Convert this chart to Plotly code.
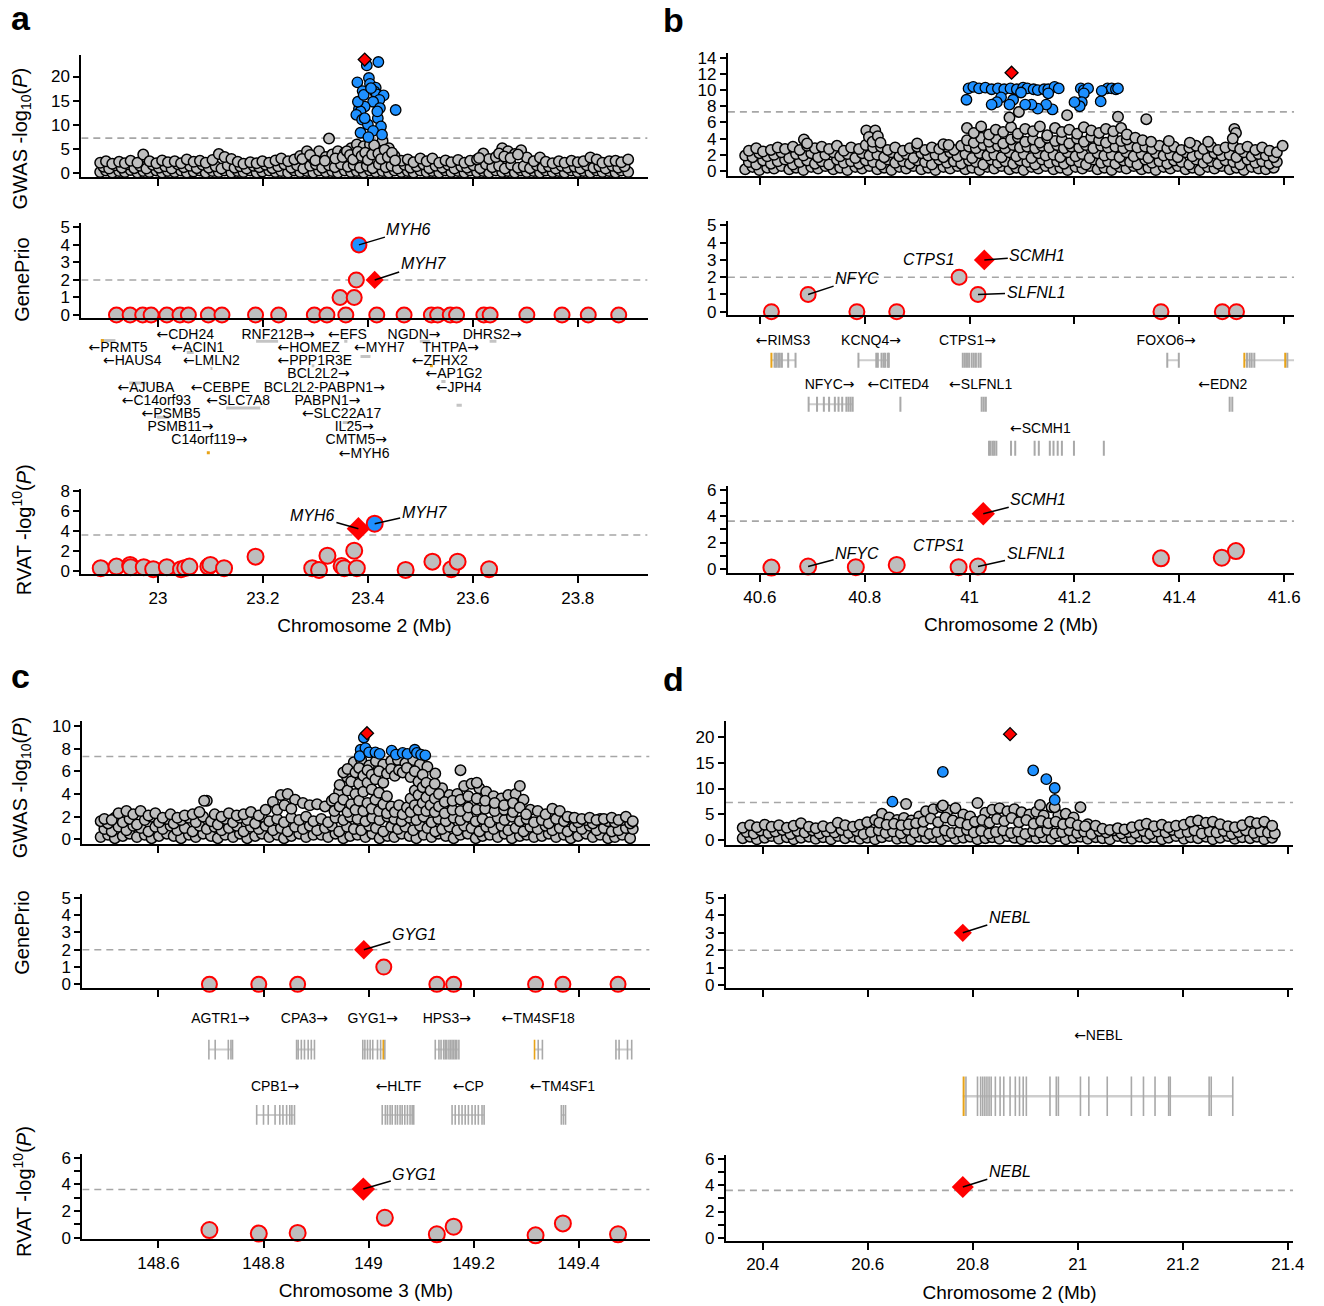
import plotly.graph_objects as go

W, H = 1324, 1306
FONT = "Liberation Sans, Arial, Helvetica, sans-serif"
GRAY = "#BEBEBE"
BLUE = "#1E90FF"
RED = "#FF0000"
DASHC = "#A6A6A6"
EXONC = "#A9A9A9"
INTRONC = "#CDCDCD"
ORANGE = "#E8A317"

# ---------------- thresholds / ticks ----------------
gwas_threshold = 7.3
geneprio_threshold = 2
rvat_threshold = 3.62

a_xticks = [23, 23.2, 23.4, 23.6, 23.8]
a_xticklabels = ["23", "23.2", "23.4", "23.6", "23.8"]
b_xticks = [40.6, 40.8, 41, 41.2, 41.4, 41.6]
b_xticklabels = ["40.6", "40.8", "41", "41.2", "41.4", "41.6"]
c_xticks = [148.6, 148.8, 149, 149.2, 149.4]
c_xticklabels = ["148.6", "148.8", "149", "149.2", "149.4"]
d_xticks = [20.4, 20.6, 20.8, 21, 21.2, 21.4]
d_xticklabels = ["20.4", "20.6", "20.8", "21", "21.2", "21.4"]

a_gwas_yticks = [0, 5, 10, 15, 20]
b_gwas_yticks = [0, 2, 4, 6, 8, 10, 12, 14]
c_gwas_yticks = [0, 2, 4, 6, 8, 10]
d_gwas_yticks = [0, 5, 10, 15, 20]
geneprio_yticks = [0, 1, 2, 3, 4, 5]
a_rvat_yticks = [0, 2, 4, 6, 8]
rvat_yticks = [0, 2, 4, 6]
rvat_minor_yticks = [1, 3, 5]

# ---------------- panel a : GWAS ----------------
a_xA = [22.890, 22.901, 22.913, 22.926, 22.937, 22.948, 22.961, 22.972, 22.984, 22.997,
        23.008, 23.019, 23.032, 23.044, 23.055, 23.068, 23.080, 23.091, 23.104, 23.116,
        23.127, 23.140, 23.152, 23.163, 23.176, 23.188, 23.199, 23.212, 23.224, 23.235,
        23.248, 23.260, 23.271, 23.284, 23.296, 23.307, 23.320, 23.332, 23.343, 23.356,
        23.368, 23.379, 23.392, 23.404, 23.415, 23.428, 23.440, 23.451, 23.464, 23.476,
        23.487, 23.500, 23.512, 23.523, 23.536, 23.548, 23.559, 23.572, 23.584, 23.595,
        23.608, 23.620, 23.631, 23.644, 23.656, 23.667, 23.680, 23.692, 23.703, 23.716,
        23.728, 23.739, 23.752, 23.764, 23.775, 23.788, 23.800, 23.811, 23.824, 23.836,
        23.847, 23.860, 23.872, 23.883, 23.896]
a_xB = [22.896, 22.907, 22.919, 22.931, 22.943, 22.955, 22.966, 22.978, 22.990, 23.002,
        23.014, 23.026, 23.038, 23.049, 23.061, 23.074, 23.085, 23.097, 23.110, 23.121,
        23.133, 23.146, 23.157, 23.169, 23.182, 23.193, 23.205, 23.218, 23.229, 23.241,
        23.254, 23.265, 23.277, 23.290, 23.301, 23.313, 23.326, 23.337, 23.349, 23.362,
        23.373, 23.385, 23.398, 23.409, 23.421, 23.434, 23.445, 23.457, 23.470, 23.481,
        23.493, 23.506, 23.517, 23.529, 23.542, 23.553, 23.565, 23.578, 23.589, 23.601,
        23.614, 23.625, 23.637, 23.650, 23.661, 23.673, 23.686, 23.697, 23.709, 23.722,
        23.733, 23.745, 23.758, 23.769, 23.781, 23.794, 23.805, 23.817, 23.830, 23.841,
        23.853, 23.866, 23.877, 23.889]
a_y0 = [0.3, 0.6, 0.2, 0.5, 0.3, 0.7, 0.2, 0.5, 0.3, 0.6,
        0.2, 0.5, 0.3, 0.6, 0.2, 0.4, 0.6, 0.2, 0.5, 0.3,
        0.6, 0.2, 0.5, 0.3, 0.6, 0.2, 0.4, 0.6, 0.3, 0.5,
        0.2, 0.6, 0.3, 0.5, 0.2, 0.6, 0.3, 0.5, 0.2, 0.6,
        0.3, 0.5, 0.2, 0.6, 0.3, 0.5, 0.2, 0.6, 0.3, 0.5,
        0.2, 0.6, 0.3, 0.5, 0.2, 0.6, 0.3, 0.5, 0.2, 0.6,
        0.3, 0.5, 0.2, 0.6, 0.3, 0.5, 0.2, 0.6, 0.3, 0.5,
        0.2, 0.6, 0.3, 0.5, 0.2, 0.6, 0.3, 0.5, 0.2, 0.6,
        0.3, 0.5, 0.2, 0.6, 0.3]
a_y1 = [1.4, 1.0, 1.7, 1.2, 1.9, 1.1, 1.6, 1.0, 1.8, 1.2,
        1.5, 1.0, 1.9, 1.3, 1.6, 1.1, 1.8, 1.2, 1.5, 1.0,
        1.7, 1.2, 1.5, 1.0, 1.6, 1.3, 1.8, 1.1, 1.5, 1.9,
        1.2, 1.7, 1.0, 1.6, 1.9, 1.2, 1.7, 1.3, 1.9, 1.4,
        1.8, 1.2, 1.6, 1.1, 1.9, 1.3, 1.6, 1.0, 1.8, 1.2,
        1.5, 1.9, 1.1, 1.6, 1.2, 1.8, 1.0, 1.5, 1.2, 1.7,
        1.1, 1.9, 1.3, 1.6, 1.0, 1.8, 1.2, 1.5, 1.1, 1.7,
        1.2, 1.5, 1.0, 1.6, 1.2, 1.4, 1.0, 1.7, 1.2, 1.5,
        1.0, 1.6, 1.2, 1.5]
a_y2 = [2.2, 2.5, 2.0, 2.4, 2.1, 2.6, 2.2, 3.9, 2.5, 2.1,
        2.7, 2.3, 2.5, 2.1, 2.9, 2.4, 2.6, 2.2, 2.8, 4.0,
        3.4, 3.0, 2.4, 2.0, 2.3, 2.1, 2.5, 2.2, 2.7, 3.1,
        2.5, 2.9, 3.6, 4.6, 3.0, 4.6, 3.4, 3.9, 4.6, 4.2,
        5.2, 6.0, 5.6, 6.0, 5.3, 6.7, 5.2, 3.6, 2.6, 2.9,
        2.3, 3.1, 2.5, 3.1, 2.2, 2.7, 2.3, 2.8, 2.2, 2.6,
        2.9, 4.1, 3.0, 3.4, 5.2, 4.6, 4.0, 4.8, 3.3, 2.5,
        3.3, 2.4, 2.1, 2.5, 2.2, 2.6, 2.3, 2.5, 3.3, 2.9,
        2.2, 2.5, 2.6, 2.3, 2.9]
a_extra = [(23.275, 3.0), (23.290, 3.8), (23.300, 2.7), (23.318, 2.6), (23.338, 3.1),
           (23.352, 3.4), (23.360, 4.6), (23.366, 3.8), (23.372, 2.9), (23.381, 4.5),
           (23.388, 3.6), (23.395, 4.3), (23.400, 2.8), (23.408, 3.9), (23.412, 5.8),
           (23.420, 4.1), (23.425, 3.0), (23.432, 4.9), (23.438, 3.4), (23.446, 4.3),
           (23.452, 2.7), (23.612, 3.2), (23.650, 4.1), (23.660, 3.5), (23.672, 3.2),
           (23.686, 3.9), (23.326, 7.2)]
a_blue = [(23.420, 23.0), (23.398, 22.3), (23.380, 18.8), (23.402, 19.7), (23.404, 18.5),
          (23.390, 17.0), (23.415, 17.7), (23.413, 16.9), (23.417, 16.3), (23.430, 16.1),
          (23.422, 15.2), (23.410, 14.8), (23.383, 13.3), (23.394, 13.8), (23.386, 12.8),
          (23.423, 13.5), (23.453, 13.1), (23.378, 12.1), (23.389, 11.1), (23.419, 11.4),
          (23.400, 10.1), (23.425, 9.7), (23.386, 8.4), (23.410, 8.8), (23.401, 7.5),
          (23.427, 8.0), (23.381, 14.8), (23.392, 16.2), (23.406, 17.6), (23.418, 12.8),
          (23.394, 11.4)]
a_lead = (23.394, 23.5)

# panel a : GenePrio / RVAT
a_gp_x = [22.921, 22.947, 22.971, 22.987, 23.017, 23.042, 23.058, 23.096, 23.122, 23.186,
          23.230, 23.298, 23.322, 23.358, 23.417, 23.469, 23.521, 23.533, 23.557, 23.569,
          23.621, 23.633, 23.703, 23.770, 23.820, 23.878, 23.347, 23.374, 23.378]
a_gp_y = [0, 0, 0, 0, 0, 0, 0, 0, 0, 0,
          0, 0, 0, 0, 0, 0, 0, 0, 0, 0,
          0, 0, 0, 0, 0, 0, 1, 1, 2]
a_gp_blue = (23.383, 4)      # MYH6
a_gp_red = (23.413, 2)       # MYH7
a_rv_x = [22.891, 22.921, 22.947, 22.948, 22.973, 22.991, 23.017, 23.044, 23.052, 23.060,
          23.096, 23.100, 23.126, 23.186, 23.294, 23.307, 23.323, 23.350, 23.355, 23.374,
          23.379, 23.472, 23.523, 23.559, 23.571, 23.631]
a_rv_y = [0.27, 0.43, 0.60, 0.37, 0.37, 0.17, 0.37, 0.17, 0.30, 0.43,
          0.43, 0.60, 0.27, 1.43, 0.27, 0.10, 1.53, 0.50, 0.27, 2.03,
          0.27, 0.10, 0.93, 0.17, 0.93, 0.17]
a_rv_red = (23.382, 4.25)    # MYH6
a_rv_blue = (23.413, 4.75)   # MYH7

# panel a : genes
a_gene_names = ["←CDH24", "RNF212B→", "←EFS", "NGDN→", "DHRS2→",
                "←PRMT5", "←ACIN1", "←HOMEZ", "←MYH7", "THTPA→",
                "←HAUS4", "←LMLN2", "←PPP1R3E", "←ZFHX2",
                "BCL2L2→", "←AP1G2",
                "←AJUBA", "←CEBPE", "BCL2L2-PABPN1→", "←JPH4",
                "←C14orf93", "←SLC7A8", "PABPN1→",
                "←PSMB5", "←SLC22A17",
                "PSMB11→", "IL25→",
                "C14orf119→", "CMTM5→",
                "←MYH6"]
a_gene_x = [23.052, 23.229, 23.361, 23.488, 23.637,
            22.924, 23.076, 23.287, 23.422, 23.558,
            22.951, 23.102, 23.299, 23.537,
            23.306, 23.564,
            22.977, 23.119, 23.317, 23.573,
            22.997, 23.153, 23.323,
            23.025, 23.350,
            23.043, 23.374,
            23.098, 23.378,
            23.393]
a_gene_row = [0, 0, 0, 0, 0, 1, 1, 1, 1, 1, 2, 2, 2, 2, 3, 3, 4, 4, 4, 4,
              5, 5, 5, 6, 6, 7, 7, 8, 8, 9]
a_glyph_start = [22.892, 23.055, 23.187, 23.355, 23.499, 23.632, 23.386, 23.293, 23.540,
                 23.569, 22.945, 22.998, 23.130, 23.352, 23.386, 23.100]
a_glyph_end = [22.919, 23.068, 23.229, 23.361, 23.518, 23.645, 23.405, 23.298, 23.548,
               23.579, 22.979, 23.021, 23.195, 23.371, 23.409, 23.104]
a_glyph_row = [0.38, 1.3, 0.45, 0.45, 0.45, 0.45, 1.6, 2.3, 3.5,
               5.3, 3.6, 6.2, 5.5, 6.6, 9.8, 2.5]
a_glyph_orange = [(22.894, 0.38), (23.521, 2.3), (23.096, 8.9)]

# ---------------- panel b : GWAS ----------------
b_xA = [40.572, 40.586, 40.599, 40.614, 40.627, 40.641, 40.656, 40.669, 40.683, 40.698,
        40.711, 40.725, 40.740, 40.753, 40.767, 40.782, 40.795, 40.809, 40.824, 40.837,
        40.851, 40.866, 40.879, 40.893, 40.908, 40.921, 40.935, 40.950, 40.963, 40.977,
        40.992, 41.005, 41.019, 41.034, 41.047, 41.061, 41.076, 41.089, 41.103, 41.118,
        41.131, 41.145, 41.160, 41.173, 41.187, 41.202, 41.215, 41.229, 41.244, 41.257,
        41.271, 41.286, 41.299, 41.313, 41.328, 41.341, 41.355, 41.370, 41.383, 41.397,
        41.412, 41.425, 41.439, 41.454, 41.467, 41.481, 41.496, 41.509, 41.523, 41.538,
        41.551, 41.565, 41.580]
b_xB = [40.579, 40.593, 40.606, 40.621, 40.634, 40.648, 40.663, 40.676, 40.690, 40.705,
        40.718, 40.732, 40.747, 40.760, 40.774, 40.789, 40.802, 40.816, 40.831, 40.844,
        40.858, 40.873, 40.886, 40.900, 40.915, 40.928, 40.942, 40.957, 40.970, 40.984,
        40.999, 41.012, 41.026, 41.041, 41.054, 41.068, 41.083, 41.096, 41.110, 41.125,
        41.138, 41.152, 41.167, 41.180, 41.194, 41.209, 41.222, 41.236, 41.251, 41.264,
        41.278, 41.293, 41.306, 41.320, 41.335, 41.348, 41.362, 41.377, 41.390, 41.404,
        41.419, 41.432, 41.446, 41.461, 41.474, 41.488, 41.503, 41.516, 41.530, 41.545,
        41.558, 41.572, 41.586]
b_y0 = [0.2, 0.5, 0.1, 0.4, 0.3, 0.6, 0.2, 0.4, 0.1, 0.5,
        0.3, 0.6, 0.2, 0.4, 0.1, 0.5, 0.3, 0.6, 0.2, 0.4,
        0.1, 0.5, 0.3, 0.6, 0.2, 0.4, 0.1, 0.5, 0.3, 0.6,
        0.2, 0.4, 0.1, 0.5, 0.3, 0.6, 0.2, 0.4, 0.1, 0.5,
        0.3, 0.6, 0.2, 0.4, 0.1, 0.5, 0.3, 0.6, 0.2, 0.4,
        0.1, 0.5, 0.3, 0.6, 0.2, 0.4, 0.1, 0.5, 0.3, 0.6,
        0.2, 0.4, 0.1, 0.5, 0.3, 0.6, 0.2, 0.4, 0.1, 0.5,
        0.3, 0.2, 0.4]
b_y1 = [1.1, 0.8, 1.3, 0.9, 1.2, 1.4, 0.8, 1.1, 1.3, 0.9,
        1.2, 0.8, 1.4, 1.0, 1.2, 0.9, 1.3, 1.1, 0.8, 1.4,
        1.0, 1.2, 0.9, 1.3, 1.1, 0.8, 1.4, 1.0, 1.2, 0.9,
        1.3, 1.1, 0.8, 1.4, 1.0, 1.2, 0.9, 1.3, 1.1, 0.8,
        1.4, 1.0, 1.2, 0.9, 1.3, 1.1, 0.8, 1.4, 1.0, 1.2,
        0.9, 1.3, 1.1, 0.8, 1.4, 1.0, 1.2, 0.9, 1.3, 1.1,
        0.8, 1.4, 1.0, 1.2, 0.9, 1.3, 1.1, 0.8, 1.4, 1.0,
        1.2, 0.9, 1.1]
b_y2 = [1.9, 1.7, 2.2, 1.8, 2.0, 2.3, 1.6, 2.1, 1.9, 2.2,
        1.7, 2.0, 2.3, 1.8, 2.1, 1.6, 2.2, 1.9, 2.0, 1.7,
        2.3, 1.8, 2.1, 1.6, 2.2, 1.9, 2.0, 1.7, 2.3, 1.8,
        2.1, 1.6, 2.2, 1.9, 2.0, 1.7, 2.3, 1.8, 2.1, 1.6,
        2.2, 1.9, 2.0, 1.7, 2.3, 1.8, 2.1, 1.6, 2.2, 1.9,
        2.0, 1.7, 2.3, 1.8, 2.1, 1.6, 2.2, 1.9, 2.0, 1.7,
        2.3, 1.8, 2.1, 1.6, 2.2, 1.9, 2.0, 1.7, 2.3, 1.8,
        2.1, 1.9, 1.7]
b_y3 = [2.5, 2.8, 2.4, 2.6, 2.9, 2.7, 3.0, 2.6, 3.1, 2.8,
        3.0, 2.7, 3.1, 2.5, 2.9, 2.7, 3.2, 2.9, 3.0, 2.6,
        2.9, 2.5, 2.8, 3.0, 2.6, 2.9, 2.7, 3.0, 2.6, 3.1,
        3.0, 2.8, 3.2, 2.9, 3.1, 2.8, 3.2, 2.9, 3.0, 2.8,
        3.1, 2.9, 3.2, 2.8, 3.0, 2.9, 3.2, 2.8, 3.1, 2.9,
        3.0, 2.8, 3.1, 2.9, 3.0, 2.7, 3.1, 2.8, 3.0, 2.6,
        2.9, 3.1, 2.7, 3.0, 2.6, 2.9, 3.1, 2.7, 3.0, 2.6,
        2.9, 2.5, 2.3]
b_mid_x = [40.995, 41.008, 41.022, 41.037, 41.050, 41.064, 41.079, 41.092, 41.106, 41.121,
           41.134, 41.148, 41.163, 41.176, 41.190, 41.205, 41.218, 41.232, 41.247, 41.260,
           41.274, 41.289, 41.300]
b_mid_y1 = [3.8, 3.5, 4.1, 3.6, 4.0, 3.4, 3.9, 4.2, 3.6, 3.9, 3.5, 4.1, 3.7, 3.9, 3.4,
            4.0, 3.6, 4.2, 3.8, 3.5, 4.0, 3.7, 3.9]
b_mid_y2 = [5.3, 4.7, 5.5, 4.5, 5.1, 4.8, 5.4, 4.6, 5.2, 4.9, 5.5, 4.4, 5.3, 4.8, 5.1,
            4.6, 5.4, 5.0, 4.7, 5.2, 4.9, 5.3, 4.5]
b_extra = [(40.684, 3.9), (40.690, 3.4), (40.803, 5.0), (40.820, 5.0), (40.808, 4.2),
           (40.815, 3.6), (40.825, 4.3), (40.830, 3.5), (41.076, 6.6), (41.094, 7.3),
           (41.186, 6.9), (41.283, 6.7), (41.337, 6.4), (41.316, 4.1), (41.330, 3.8),
           (41.346, 3.6), (41.505, 5.2), (41.508, 4.7), (41.502, 4.0), (41.597, 3.1),
           (41.455, 3.6), (41.420, 3.5), (41.380, 3.7), (40.900, 3.4), (40.950, 3.3),
           (40.960, 3.2)]
b_blue = [(40.998, 10.2), (41.007, 10.4), (41.018, 10.2), (41.030, 10.3), (41.042, 10.1),
          (41.054, 10.2), (41.066, 10.1), (41.078, 10.2), (41.090, 10.1), (41.102, 10.3),
          (41.110, 10.2), (41.122, 10.1), (41.130, 10.0), (41.142, 10.1), (41.150, 10.1),
          (41.162, 10.4), (41.170, 10.2), (41.212, 10.2), (41.218, 10.0), (41.226, 10.2),
          (41.263, 10.2), (41.271, 10.2), (41.279, 10.1), (41.283, 10.2),
          (41.252, 9.9), (41.250, 8.6), (41.218, 9.6), (41.214, 8.5), (41.210, 8.0),
          (41.200, 8.5), (41.158, 7.6), (41.150, 9.6), (41.146, 8.2), (41.130, 7.7),
          (41.118, 8.2), (41.106, 8.2), (41.098, 9.7), (41.083, 8.8), (41.076, 8.2),
          (41.060, 9.1), (41.052, 8.5), (41.042, 8.2), (40.994, 8.8)]
b_lead = (41.080, 12.15)

b_gp_x = [40.622, 40.785, 40.861, 41.365, 41.482, 41.509, 40.692, 40.980, 41.016]
b_gp_y = [0, 0, 0, 0, 0, 0, 1, 2, 1]
b_gp_red = (41.028, 3)       # SCMH1
b_rv_x = [40.622, 40.692, 40.783, 40.861, 40.979, 41.016, 41.365, 41.481, 41.508]
b_rv_y = [0.10, 0.18, 0.13, 0.30, 0.13, 0.18, 0.80, 0.85, 1.35]
b_rv_red = (41.026, 4.18)    # SCMH1

b_gene_names = ["←RIMS3", "KCNQ4→", "CTPS1→", "FOXO6→", "NFYC→", "←CITED4", "←SLFNL1",
                "←EDN2", "←SCMH1"]
b_gene_x = [40.644, 40.812, 40.996, 41.375, 40.733, 40.864, 41.021, 41.483, 41.135]
b_gene_row = [0, 0, 0, 0, 1, 1, 1, 1, 2]
b_exons_row0 = [40.628, 40.631, 40.635, 40.638, 40.642, 40.654, 40.668,
                40.788, 40.822, 40.825, 40.832, 40.836, 40.839, 40.844, 40.846,
                40.987, 40.991, 40.995, 40.999, 41.004, 41.008, 41.012, 41.017, 41.021,
                41.377, 41.399, 41.529, 41.534, 41.538, 41.543, 41.606]
b_orange_row0 = [40.622, 41.524, 41.602]
b_exons_row1 = [40.693, 40.709, 40.722, 40.732, 40.743, 40.750, 40.757, 40.765, 40.769,
                40.773, 40.777, 40.868, 41.023, 41.027, 41.031, 41.496, 41.501]
b_exons_row2 = [41.037, 41.040, 41.044, 41.047, 41.051, 41.079, 41.087, 41.124, 41.132,
                41.153, 41.160, 41.168, 41.176, 41.199, 41.256]
b_intron_start = [40.622, 40.788, 41.377, 41.524, 40.693]
b_intron_end = [40.668, 40.846, 41.399, 41.619, 40.777]
b_intron_row = [0, 0, 0, 0, 1]

# ---------------- panel c : GWAS ----------------
c_xA = [148.490, 148.504, 148.517, 148.532, 148.545, 148.559, 148.574, 148.587, 148.601, 148.616,
        148.629, 148.643, 148.658, 148.671, 148.685, 148.700, 148.713, 148.727, 148.742, 148.755,
        148.769, 148.784, 148.797, 148.811, 148.826, 148.839, 148.853, 148.868, 148.881, 148.895,
        148.910, 148.923, 148.937, 148.952, 148.965, 148.979, 148.994, 149.007, 149.021, 149.036,
        149.049, 149.063, 149.078, 149.091, 149.105, 149.120, 149.133, 149.147, 149.162, 149.175,
        149.189, 149.204, 149.217, 149.231, 149.246, 149.259, 149.273, 149.288, 149.301, 149.315,
        149.330, 149.343, 149.357, 149.372, 149.385, 149.399, 149.414, 149.427, 149.441, 149.456,
        149.469, 149.483, 149.498]
c_xB = [148.497, 148.511, 148.524, 148.539, 148.552, 148.566, 148.581, 148.594, 148.608, 148.623,
        148.636, 148.650, 148.665, 148.678, 148.692, 148.707, 148.720, 148.734, 148.749, 148.762,
        148.776, 148.791, 148.804, 148.818, 148.833, 148.846, 148.860, 148.875, 148.888, 148.902,
        148.917, 148.930, 148.944, 148.959, 148.972, 148.986, 149.001, 149.014, 149.028, 149.043,
        149.056, 149.070, 149.085, 149.098, 149.112, 149.127, 149.140, 149.154, 149.169, 149.182,
        149.196, 149.211, 149.224, 149.238, 149.253, 149.266, 149.280, 149.295, 149.308, 149.322,
        149.337, 149.350, 149.364, 149.379, 149.392, 149.406, 149.421, 149.434, 149.448, 149.463,
        149.476, 149.490, 149.503]
c_y0 = [0.2, 0.4, 0.1, 0.3, 0.5, 0.2, 0.4, 0.1, 0.3, 0.5,
        0.3, 0.1, 0.4, 0.2, 0.5, 0.3, 0.1, 0.4, 0.2, 0.5,
        0.1, 0.3, 0.5, 0.2, 0.4, 0.1, 0.3, 0.5, 0.2, 0.4,
        0.4, 0.2, 0.5, 0.1, 0.3, 0.4, 0.2, 0.5, 0.1, 0.3,
        0.2, 0.5, 0.3, 0.1, 0.4, 0.2, 0.5, 0.3, 0.1, 0.4,
        0.5, 0.1, 0.3, 0.4, 0.2, 0.5, 0.1, 0.3, 0.4, 0.2,
        0.3, 0.5, 0.2, 0.4, 0.1, 0.3, 0.5, 0.2, 0.4, 0.1,
        0.2, 0.4, 0.1]
c_y1 = [0.9, 0.7, 1.1, 0.8, 1.2, 1.0, 0.7, 1.1, 0.9, 1.2,
        0.8, 1.0, 0.7, 1.2, 0.9, 1.1, 0.8, 1.0, 1.2, 0.7,
        1.1, 0.9, 1.2, 0.8, 1.0, 0.7, 1.1, 0.9, 1.2, 0.8,
        1.0, 1.2, 0.7, 1.1, 0.9, 0.8, 1.2, 1.0, 0.7, 1.1,
        0.9, 1.1, 0.8, 1.2, 1.0, 0.7, 0.9, 1.1, 0.8, 1.2,
        1.0, 0.7, 1.1, 0.9, 1.2, 0.8, 1.0, 0.7, 1.1, 0.9,
        1.2, 0.8, 1.0, 0.7, 1.1, 0.9, 1.2, 0.8, 1.0, 0.7,
        0.8, 1.0, 0.9]
c_y2 = [1.6, 1.4, 1.9, 1.5, 1.8, 1.3, 1.7, 2.0, 1.5, 1.8,
        1.4, 1.7, 1.9, 1.5, 2.0, 1.6, 1.3, 1.8, 1.5, 1.9,
        1.7, 1.4, 2.0, 1.6, 1.8, 1.5, 1.9, 1.7, 2.0, 1.6,
        1.8, 1.5, 1.9, 1.7, 2.0, 1.8, 1.6, 1.9, 1.7, 2.0,
        1.8, 1.6, 1.9, 1.7, 2.0, 1.5, 1.8, 1.6, 1.9, 1.7,
        2.0, 1.6, 1.8, 1.5, 1.9, 1.7, 2.0, 1.6, 1.8, 1.5,
        1.7, 1.4, 1.8, 1.6, 1.9, 1.5, 1.7, 1.4, 1.8, 1.6,
        1.5, 1.7, 1.4]
c_y3 = [1.8, 1.7, 2.3, 2.5, 2.2, 2.5, 2.1, 2.3, 1.9, 2.2,
        1.9, 2.1, 2.2, 2.4, 3.4, 2.2, 2.0, 2.3, 2.1, 2.2,
        2.4, 2.1, 2.6, 3.3, 3.9, 4.0, 3.5, 3.2, 3.0, 3.1,
        2.9, 3.4, 4.2, 5.5, 6.8, 7.0, 6.5, 6.9, 6.6, 6.9,
        7.0, 6.7, 7.0, 6.6, 6.4, 5.8, 4.5, 3.9, 4.0, 4.7,
        4.9, 4.5, 4.2, 3.8, 3.6, 3.9, 4.0, 3.5, 2.6, 2.5,
        2.2, 2.7, 2.5, 2.0, 1.9, 1.8, 1.9, 1.7, 1.8, 1.9,
        1.7, 2.0, 1.6]
c_extra = [(148.935, 2.5), (148.935, 3.6), (148.945, 2.9), (148.945, 4.8), (148.952, 3.5),
           (148.952, 5.9), (148.960, 2.4), (148.960, 4.3), (148.960, 6.2), (148.967, 3.1),
           (148.967, 5.1), (148.975, 2.6), (148.975, 4.0), (148.975, 5.9), (148.982, 3.4),
           (148.982, 4.9), (148.982, 6.3), (148.990, 2.5), (148.990, 4.2), (148.990, 5.6),
           (148.998, 3.2), (148.998, 5.0), (148.998, 6.1), (149.006, 2.7), (149.006, 4.4),
           (149.006, 5.7), (149.013, 3.5), (149.013, 5.3), (149.020, 2.5), (149.020, 4.1),
           (149.020, 6.0), (149.028, 3.1), (149.028, 5.0), (149.035, 2.3), (149.035, 3.8),
           (149.035, 5.8), (149.043, 2.9), (149.043, 6.2), (149.050, 2.4), (149.050, 5.6),
           (149.058, 3.0), (149.058, 6.1), (149.065, 2.2), (149.065, 5.9), (149.073, 2.8),
           (149.073, 6.3), (149.080, 2.4), (149.080, 3.6), (149.080, 5.5), (149.088, 3.0),
           (149.088, 4.3), (149.088, 6.0), (149.095, 2.6), (149.095, 3.9), (149.095, 5.1),
           (149.103, 3.2), (149.103, 4.6), (149.103, 5.7), (149.110, 2.5), (149.110, 3.7),
           (149.110, 5.0), (149.118, 3.0), (149.118, 4.3), (149.126, 2.4), (149.126, 3.6),
           (149.126, 4.9), (149.134, 2.9), (149.134, 4.0), (149.145, 2.3), (149.145, 3.3),
           (149.160, 2.6), (149.160, 3.4), (149.175, 2.5), (149.175, 3.5), (149.175, 6.1),
           (149.190, 2.8), (149.190, 3.8), (149.206, 2.6), (149.206, 3.6), (149.206, 5.0),
           (149.222, 2.7), (149.222, 3.4), (149.240, 2.5), (149.240, 3.2), (149.258, 2.6),
           (149.258, 3.0), (149.275, 2.4), (149.275, 3.2), (149.288, 2.8), (149.288, 4.7),
           (149.300, 2.2), (148.826, 2.6), (148.840, 3.0), (148.853, 2.7), (148.687, 3.4)]
c_blue = [(148.991, 8.98), (148.985, 7.90), (148.994, 8.05), (148.983, 7.33), (149.001, 7.67),
          (149.013, 7.67), (149.021, 7.53), (149.044, 7.82), (149.052, 7.47), (149.065, 7.62),
          (149.074, 7.53), (149.088, 7.90), (149.092, 7.62), (149.100, 7.47), (149.108, 7.41)]
c_lead = (148.997, 9.36)

c_gp_x = [148.697, 148.791, 148.865, 149.130, 149.162, 149.318, 149.370, 149.475, 149.029]
c_gp_y = [0, 0, 0, 0, 0, 0, 0, 0, 1]
c_gp_red = (148.991, 2)      # GYG1
c_rv_x = [148.697, 148.791, 148.865, 149.031, 149.130, 149.162, 149.318, 149.370, 149.475]
c_rv_y = [0.57, 0.30, 0.35, 1.49, 0.25, 0.82, 0.17, 1.07, 0.25]
c_rv_red = (148.990, 3.65)   # GYG1

c_gene_names = ["AGTR1→", "CPA3→", "GYG1→", "HPS3→", "←TM4SF18", "CPB1→", "←HLTF", "←CP",
                "←TM4SF1"]
c_gene_x = [148.718, 148.878, 149.008, 149.149, 149.323, 148.822, 149.057, 149.190, 149.369]
c_gene_row = [0, 0, 0, 0, 0, 1, 1, 1, 1]
c_exons_row0 = [148.696, 148.708, 148.733, 148.738, 148.741,
                148.863, 148.866, 148.872, 148.878, 148.885, 148.891, 148.897,
                148.989, 148.993, 148.998, 149.003, 149.008, 149.017, 149.023, 149.031,
                149.127, 149.134, 149.138, 149.143, 149.146, 149.149, 149.153, 149.156,
                149.159, 149.162, 149.165, 149.168, 149.172,
                149.323, 149.331, 149.471, 149.477, 149.493, 149.501]
c_orange_row0 = [149.028, 149.316]
c_exons_row1 = [148.787, 148.800, 148.809, 148.822, 148.831, 148.837, 148.844, 148.850,
                148.854, 148.859,
                149.026, 149.032, 149.036, 149.041, 149.045, 149.051, 149.055, 149.060,
                149.064, 149.069, 149.074, 149.079, 149.083, 149.086,
                149.159, 149.165, 149.172, 149.178, 149.184, 149.190, 149.197, 149.203,
                149.209, 149.216, 149.220, 149.367, 149.371, 149.375]
c_intron_start = [148.696, 148.863, 148.989, 149.127, 149.316, 149.471, 148.787, 149.026,
                  149.159, 149.367]
c_intron_end = [148.741, 148.897, 149.031, 149.172, 149.331, 149.501, 148.859, 149.086,
                149.220, 149.375]
c_intron_row = [0, 0, 0, 0, 0, 0, 1, 1, 1, 1]

# ---------------- panel d : GWAS ----------------
d_xA = [20.362, 20.376, 20.389, 20.404, 20.417, 20.431, 20.446, 20.459, 20.473, 20.488,
        20.501, 20.515, 20.530, 20.543, 20.557, 20.572, 20.585, 20.599, 20.614, 20.627,
        20.641, 20.656, 20.669, 20.683, 20.698, 20.711, 20.725, 20.740, 20.753, 20.767,
        20.782, 20.795, 20.809, 20.824, 20.837, 20.851, 20.866, 20.879, 20.893, 20.908,
        20.921, 20.935, 20.950, 20.963, 20.977, 20.992, 21.005, 21.019, 21.034, 21.047,
        21.061, 21.076, 21.089, 21.103, 21.118, 21.131, 21.145, 21.160, 21.173, 21.187,
        21.202, 21.215, 21.229, 21.244, 21.257, 21.271, 21.286, 21.299, 21.313, 21.328,
        21.341, 21.355, 21.370]
d_xB = [20.369, 20.383, 20.396, 20.411, 20.424, 20.438, 20.453, 20.466, 20.480, 20.495,
        20.508, 20.522, 20.537, 20.550, 20.564, 20.579, 20.592, 20.606, 20.621, 20.634,
        20.648, 20.663, 20.676, 20.690, 20.705, 20.718, 20.732, 20.747, 20.760, 20.774,
        20.789, 20.802, 20.816, 20.831, 20.844, 20.858, 20.873, 20.886, 20.900, 20.915,
        20.928, 20.942, 20.957, 20.970, 20.984, 20.999, 21.012, 21.026, 21.041, 21.054,
        21.068, 21.083, 21.096, 21.110, 21.125, 21.138, 21.152, 21.167, 21.180, 21.194,
        21.209, 21.222, 21.236, 21.251, 21.264, 21.278, 21.293, 21.306, 21.320, 21.335,
        21.348, 21.362, 21.375]
d_y0 = [0.4, 0.7, 0.2, 0.5, 0.8, 0.3, 0.6, 0.2, 0.5, 0.7,
        0.3, 0.6, 0.2, 0.8, 0.4, 0.7, 0.3, 0.5, 0.2, 0.6,
        0.8, 0.3, 0.5, 0.2, 0.7, 0.4, 0.6, 0.2, 0.8, 0.3,
        0.5, 0.7, 0.2, 0.4, 0.6, 0.3, 0.8, 0.5, 0.2, 0.7,
        0.4, 0.6, 0.3, 0.8, 0.2, 0.5, 0.7, 0.3, 0.6, 0.4,
        0.2, 0.8, 0.5, 0.3, 0.7, 0.4, 0.6, 0.2, 0.5, 0.8,
        0.3, 0.6, 0.4, 0.7, 0.2, 0.5, 0.8, 0.3, 0.6, 0.4,
        0.7, 0.2, 0.5]
d_y1 = [1.6, 1.3, 1.9, 1.4, 1.7, 2.0, 1.2, 1.8, 1.5, 1.9,
        1.3, 1.7, 1.5, 2.0, 1.4, 1.8, 1.2, 1.6, 1.9, 1.4,
        1.7, 1.3, 2.0, 1.5, 1.8, 1.2, 1.6, 1.9, 1.4, 1.7,
        2.0, 1.5, 1.8, 1.3, 1.6, 1.9, 1.4, 1.7, 1.2, 1.8,
        1.5, 2.0, 1.3, 1.6, 1.9, 1.4, 1.7, 1.2, 1.8, 1.5,
        1.9, 1.3, 1.6, 1.4, 1.8, 1.2, 1.7, 1.5, 2.0, 1.4,
        1.6, 1.9, 1.3, 1.7, 1.5, 1.8, 1.2, 1.6, 1.9, 1.4,
        1.7, 1.5, 1.3]
d_y2 = [2.4, 2.9, 2.5, 3.0, 2.6, 2.9, 2.4, 2.8, 3.3, 2.6,
        2.3, 2.7, 2.4, 3.4, 2.9, 2.6, 3.0, 3.5, 3.9, 5.1,
        4.4, 3.9, 4.3, 3.8, 4.6, 5.6, 6.0, 6.4, 5.8, 6.2,
        5.0, 4.6, 7.2, 5.3, 5.9, 6.2, 5.6, 6.0, 5.4, 5.0,
        5.5, 4.8, 6.4, 4.9, 5.1, 4.4, 6.4, 3.1, 2.8, 2.2,
        2.0, 2.3, 2.1, 2.5, 2.9, 3.2, 2.7, 3.0, 2.5, 2.8,
        3.0, 3.6, 3.8, 3.4, 3.6, 3.1, 2.7, 2.5, 2.9, 3.6,
        3.3, 3.6, 2.8]
d_extra = [(20.622, 3.4), (20.636, 3.0), (20.650, 3.2), (20.664, 2.9), (20.678, 3.1),
           (20.692, 3.3), (20.706, 3.6), (20.720, 4.2), (20.734, 3.5), (20.748, 4.4),
           (20.762, 3.8), (20.776, 3.4), (20.790, 3.0), (20.804, 3.6), (20.818, 3.9),
           (20.832, 3.4), (20.846, 4.1), (20.860, 3.7), (20.874, 4.3), (20.888, 3.5),
           (20.902, 3.9), (20.916, 3.2), (20.930, 3.7), (20.944, 3.3), (20.958, 3.6),
           (20.972, 3.1), (20.986, 3.4), (21.000, 2.9), (21.014, 2.7), (20.673, 7.0),
           (20.928, 6.8), (20.956, 6.4), (20.743, 6.7)]
d_blue = [(20.647, 7.45), (20.743, 13.2), (20.915, 13.5), (20.940, 11.8), (20.956, 10.1),
          (20.956, 7.8)]
d_lead = (20.871, 20.5)

d_gp_red = (20.781, 3)       # NEBL
d_rv_red = (20.781, 3.88)    # NEBL

d_gene_names = ["←NEBL"]
d_gene_x = [21.039]
d_gene_row = [0]
d_exons = [20.787, 20.809, 20.815, 20.819, 20.823, 20.827, 20.831, 20.835, 20.843, 20.852,
           20.859, 20.871, 20.881, 20.889, 20.896, 20.902, 20.947, 20.959, 20.963, 21.005,
           21.021, 21.056, 21.102, 21.125, 21.147, 21.173, 21.176, 21.250, 21.254, 21.295]
d_orange = [20.7826]
d_intron_start = [20.781]
d_intron_end = [21.295]

# =====================================================================
fig = go.Figure()
layout_axes = {}
annotations = []
ARROW_SPAN = '<span style="font-family:DejaVu Sans">{}</span>'


def arrowize(name):
    return name.replace("←", ARROW_SPAN.format("←")).replace("→", ARROW_SPAN.format("→"))


def ids(n):
    s = "" if n == 1 else str(n)
    return "x" + s, "y" + s, "xaxis" + s, "yaxis" + s


def set_axes(n, xpx, ypx, xr, yr, xt=None, xtt=None, yt=None, xlabels=False,
             visible=True, xtitle=None, minor=None):
    xid, yid, xk, yk = ids(n)
    xdom = [xpx[0] / W, xpx[1] / W]
    ydom = [1 - ypx[1] / H, 1 - ypx[0] / H]
    if not visible:
        layout_axes[xk] = dict(domain=xdom, range=list(xr), anchor=yid, visible=False)
        layout_axes[yk] = dict(domain=ydom, range=list(yr), anchor=xid, visible=False)
        return
    xa = dict(domain=xdom, range=list(xr), anchor=yid, showline=True, linecolor="black",
              linewidth=2, ticks="outside", ticklen=7, tickwidth=1.5, tickcolor="black",
              tickmode="array", tickvals=xt, ticktext=xtt, showticklabels=xlabels,
              showgrid=False, zeroline=False,
              tickfont=dict(family=FONT, size=17, color="black"))
    if xtitle:
        xa["title"] = dict(text=xtitle, font=dict(family=FONT, size=19, color="black"),
                           standoff=12)
    ya = dict(domain=ydom, range=list(yr), anchor=xid, showline=True, linecolor="black",
              linewidth=2, ticks="outside", ticklen=6, tickwidth=1.5, tickcolor="black",
              tickmode="array", tickvals=yt, ticktext=[str(v) for v in yt],
              showgrid=False, zeroline=False,
              tickfont=dict(family=FONT, size=17, color="black"))
    if minor:
        ya["minor"] = dict(tickmode="array", tickvals=minor, ticks="outside", ticklen=6,
                           tickwidth=1.5, tickcolor="black", showgrid=False)
    layout_axes[xk] = xa
    layout_axes[yk] = ya


def add(n, trace):
    xid, yid, _, _ = ids(n)
    trace.update(xaxis=xid, yaxis=yid, showlegend=False, hoverinfo="skip")
    fig.add_trace(trace)


def hline(n, xr, yv):
    add(n, go.Scatter(x=[xr[0], xr[1]], y=[yv, yv], mode="lines",
                      line=dict(color=DASHC, width=1.6, dash="7px,5px")))


def pts(n, xs, ys, size, fill, lc, lw, symbol="circle"):
    add(n, go.Scatter(x=list(xs), y=list(ys), mode="markers", cliponaxis=False,
                      marker=dict(symbol=symbol, size=size, color=fill,
                                  line=dict(color=lc, width=lw))))


def label(n, x, y, text, ax, ay, arrow=True, xshift=0, yshift=0):
    xid, yid, _, _ = ids(n)
    d = dict(x=x, y=y, xref=xid, yref=yid, text="<i>" + text + "</i>",
             font=dict(family=FONT, size=16, color="black"))
    if arrow:
        d.update(showarrow=True, arrowhead=0, arrowwidth=1.5, arrowcolor="black",
                 ax=ax, ay=ay, axref="pixel", ayref="pixel", standoff=0)
    else:
        d.update(showarrow=False, xshift=xshift, yshift=yshift)
    annotations.append(d)


def gwas(n, layers, extra, blue, lead):
    gx, gy = [], []
    for xs, ys in layers:
        for a, b in zip(xs, ys):
            gx.append(a)
            gy.append(b)
    for a, b in extra:
        gx.append(a)
        gy.append(b)
    pts(n, gx, gy, 10.5, GRAY, "black", 1.5)
    pts(n, [p[0] for p in blue], [p[1] for p in blue], 10.5, BLUE, "black", 1.3)
    pts(n, [lead[0]], [lead[1]], 10, RED, "black", 1.3, "diamond")


def exon_trace(n, xs, yc, hh, color, width):
    ex, ey = [], []
    for v in xs:
        ex += [v, v, None]
        ey += [yc - hh, yc + hh, None]
    add(n, go.Scatter(x=ex, y=ey, mode="lines", line=dict(color=color, width=width)))


def intron_trace(n, starts, ends, rows, ycs, color, width):
    ix, iy = [], []
    for s, e, r in zip(starts, ends, rows):
        ix += [s, e, None]
        iy += [ycs[r], ycs[r], None]
    add(n, go.Scatter(x=ix, y=iy, mode="lines", line=dict(color=color, width=width)))


def gene_labels(n, xs, rows, names):
    add(n, go.Scatter(x=xs, y=rows, mode="text", text=[arrowize(s) for s in names],
                      cliponaxis=False, textposition="middle center",
                      textfont=dict(family=FONT, size=14, color="black")))


# ---------------- panel a ----------------
AX = (82, 653)
AXR = (22.854, 23.933)
set_axes(1, AX, (50, 173.3), AXR, (-0.82, 24.35), a_xticks, a_xticklabels, a_gwas_yticks)
set_axes(2, AX, (219, 315), AXR, (-0.15, 5.27), a_xticks, a_xticklabels, geneprio_yticks)
set_axes(3, AX, (326, 460), AXR, (9.53, -0.525), visible=False)
set_axes(4, AX, (488, 574.3), AXR, (-0.33, 8.27), a_xticks, a_xticklabels, a_rvat_yticks,
         xlabels=True, xtitle="Chromosome 2 (Mb)")
hline(1, AXR, gwas_threshold)
gwas(1, [(a_xA, a_y0), (a_xB, a_y1), (a_xA, a_y2)], a_extra, a_blue, a_lead)
hline(2, AXR, geneprio_threshold)
pts(2, a_gp_x, a_gp_y, 15, GRAY, RED, 2)
pts(2, [a_gp_blue[0]], [a_gp_blue[1]], 15, BLUE, RED, 2)
pts(2, [a_gp_red[0]], [a_gp_red[1]], 14, RED, RED, 0, "diamond")
label(2, a_gp_blue[0], a_gp_blue[1], "MYH6", 50, -15)
label(2, a_gp_red[0], a_gp_red[1], "MYH7", 49, -16)
gx, gy = [], []
for s, e, r in zip(a_glyph_start, a_glyph_end, a_glyph_row):
    gx += [s, e, None]
    gy += [r, r, None]
add(3, go.Scatter(x=gx, y=gy, mode="lines", line=dict(color="#C4C4C4", width=3)))
add(3, go.Scatter(x=[p[0] for p in a_glyph_orange], y=[p[1] for p in a_glyph_orange],
                  mode="markers", marker=dict(symbol="square", size=3, color=ORANGE)))
gene_labels(3, a_gene_x, a_gene_row, a_gene_names)
hline(4, AXR, rvat_threshold)
pts(4, a_rv_x, a_rv_y, 16, GRAY, RED, 2)
pts(4, [a_rv_red[0]], [a_rv_red[1]], 18, RED, RED, 0, "diamond")
pts(4, [a_rv_blue[0]], [a_rv_blue[1]], 16, BLUE, RED, 2)
label(4, a_rv_red[0], a_rv_red[1], "MYH6", -46, -13)
label(4, a_rv_blue[0], a_rv_blue[1], "MYH7", 50, -11)

# ---------------- panel b ----------------
BX = (734, 1305)
BXR = (40.539, 41.619)
set_axes(5, BX, (47.7, 171.7), BXR, (-0.61, 14.56), b_xticks, b_xticklabels, b_gwas_yticks)
set_axes(6, BX, (217.3, 312.3), BXR, (-0.19, 5.26), b_xticks, b_xticklabels, geneprio_yticks)
set_axes(7, BX, (327, 461), BXR, (2.74, -0.27), visible=False)
set_axes(8, BX, (485, 573.3), BXR, (-0.32, 6.3), b_xticks, b_xticklabels, rvat_yticks,
         xlabels=True, xtitle="Chromosome 2 (Mb)", minor=rvat_minor_yticks)
hline(5, BXR, gwas_threshold)
gwas(5, [(b_xA, b_y0), (b_xB, b_y1), (b_xA, b_y2), (b_xB, b_y3), (b_mid_x, b_mid_y1),
         (b_mid_x, b_mid_y2)], b_extra, b_blue, b_lead)
hline(6, BXR, geneprio_threshold)
pts(6, b_gp_x, b_gp_y, 15, GRAY, RED, 2)
pts(6, [b_gp_red[0]], [b_gp_red[1]], 16, RED, RED, 0, "diamond")
label(6, 40.692, 1, "NFYC", 49, -16)
label(6, 40.980, 2, "CTPS1", 0, 0, arrow=False, xshift=-30, yshift=18)
label(6, b_gp_red[0], b_gp_red[1], "SCMH1", 53, -4)
label(6, 41.016, 1, "SLFNL1", 58, -2)
b_glyph_rows = [0.427, 1.427, 2.427]
intron_trace(7, b_intron_start, b_intron_end, b_intron_row, b_glyph_rows, INTRONC, 2)
exon_trace(7, b_exons_row0, b_glyph_rows[0], 0.17, EXONC, 2)
exon_trace(7, b_orange_row0, b_glyph_rows[0], 0.17, ORANGE, 2)
exon_trace(7, b_exons_row1, b_glyph_rows[1], 0.17, EXONC, 2)
exon_trace(7, b_exons_row2, b_glyph_rows[2], 0.17, EXONC, 2)
gene_labels(7, b_gene_x, b_gene_row, b_gene_names)
hline(8, BXR, rvat_threshold)
pts(8, b_rv_x, b_rv_y, 16, GRAY, RED, 2)
pts(8, [b_rv_red[0]], [b_rv_red[1]], 18, RED, RED, 0, "diamond")
label(8, b_rv_red[0], b_rv_red[1], "SCMH1", 55, -14)
label(8, 40.692, 0.18, "NFYC", 49, -13)
label(8, 40.979, 0.13, "CTPS1", 0, 0, arrow=False, xshift=-20, yshift=22)
label(8, 41.016, 0.18, "SLFNL1", 58, -13)

# ---------------- panel c ----------------
CX = (83, 655)
CXR = (148.455, 149.535)
set_axes(9, CX, (722.7, 846.7), CXR, (-0.38, 10.44), c_xticks, c_xticklabels, c_gwas_yticks)
set_axes(10, CX, (897.3, 993), CXR, (-0.23, 5.24), c_xticks, c_xticklabels, geneprio_yticks)
set_axes(11, CX, (1005, 1140), CXR, (1.691, -0.294), visible=False)
set_axes(12, CX, (1160, 1246.7), CXR, (-0.13, 6.32), c_xticks, c_xticklabels, rvat_yticks,
         xlabels=True, xtitle="Chromosome 3 (Mb)", minor=rvat_minor_yticks)
hline(9, CXR, gwas_threshold)
gwas(9, [(c_xA, c_y0), (c_xB, c_y1), (c_xA, c_y2), (c_xB, c_y3)], c_extra, c_blue, c_lead)
hline(10, CXR, geneprio_threshold)
pts(10, c_gp_x, c_gp_y, 15, GRAY, RED, 2)
pts(10, [c_gp_red[0]], [c_gp_red[1]], 15, RED, RED, 0, "diamond")
label(10, c_gp_red[0], c_gp_red[1], "GYG1", 50, -15)
c_glyph_rows = [0.44, 1.41]
intron_trace(11, c_intron_start, c_intron_end, c_intron_row, c_glyph_rows, INTRONC, 2)
exon_trace(11, c_exons_row0, c_glyph_rows[0], 0.147, EXONC, 1.6)
exon_trace(11, c_orange_row0, c_glyph_rows[0], 0.147, ORANGE, 1.6)
exon_trace(11, c_exons_row1, c_glyph_rows[1], 0.147, EXONC, 1.6)
gene_labels(11, c_gene_x, c_gene_row, c_gene_names)
hline(12, CXR, rvat_threshold)
pts(12, c_rv_x, c_rv_y, 16, GRAY, RED, 2)
pts(12, [c_rv_red[0]], [c_rv_red[1]], 18, RED, RED, 0, "diamond")
label(12, c_rv_red[0], c_rv_red[1], "GYG1", 51, -15)

# ---------------- panel d ----------------
DX = (732, 1304)
DXR = (20.330, 21.410)
set_axes(13, DX, (722.7, 847.7), DXR, (-0.84, 23.05), d_xticks, d_xticklabels, d_gwas_yticks)
set_axes(14, DX, (898, 993), DXR, (-0.19, 5.21), d_xticks, d_xticklabels, geneprio_yticks)
set_axes(15, DX, (1005, 1140), DXR, (1.633, -0.617), visible=False)
set_axes(16, DX, (1161.7, 1248.3), DXR, (-0.25, 6.31), d_xticks, d_xticklabels, rvat_yticks,
         xlabels=True, xtitle="Chromosome 2 (Mb)", minor=rvat_minor_yticks)
hline(13, DXR, gwas_threshold)
gwas(13, [(d_xA, d_y0), (d_xB, d_y1), (d_xA, d_y2)], d_extra, d_blue, d_lead)
hline(14, DXR, geneprio_threshold)
pts(14, [d_gp_red[0]], [d_gp_red[1]], 14, RED, RED, 0, "diamond")
label(14, d_gp_red[0], d_gp_red[1], "NEBL", 47, -15)
intron_trace(15, d_intron_start, d_intron_end, [0], [1.0], INTRONC, 2.5)
exon_trace(15, d_exons, 1.0, 0.333, EXONC, 1.6)
exon_trace(15, d_orange, 1.0, 0.333, ORANGE, 2)
gene_labels(15, d_gene_x, d_gene_row, d_gene_names)
hline(16, DXR, rvat_threshold)
pts(16, [d_rv_red[0]], [d_rv_red[1]], 17, RED, RED, 0, "diamond")
label(16, d_rv_red[0], d_rv_red[1], "NEBL", 47, -15)

# ---------------- panel letters and y titles ----------------
for txt, xp, yp in [("a", 9, -9), ("b", 667, -7), ("c", 9, 656), ("d", 667, 659)]:
    annotations.append(dict(x=xp / W, y=1 - yp / H, xref="paper", yref="paper",
                            xanchor="left", yanchor="top", showarrow=False,
                            text="<b>" + txt + "</b>",
                            font=dict(family=FONT, size=34, color="black")))
ytitles = [("GWAS -log<sub>10</sub>(<i>P</i>)", 134), ("GenePrio", 276),
           ("RVAT -log<sup>10</sup>(<i>P</i>)", 529),
           ("GWAS -log<sub>10</sub>(<i>P</i>)", 790), ("GenePrio", 936),
           ("RVAT -log<sup>10</sup>(<i>P</i>)", 1198)]
for txt, yp in ytitles:
    annotations.append(dict(x=22 / W, y=1 - yp / H, xref="paper", yref="paper",
                            xanchor="center", yanchor="middle", showarrow=False,
                            textangle=-90, text=txt,
                            font=dict(family=FONT, size=20, color="black")))

fig.update_layout(width=W, height=H, margin=dict(l=0, r=0, t=0, b=0),
                  paper_bgcolor="white", plot_bgcolor="white",
                  annotations=annotations, showlegend=False,
                  font=dict(family=FONT, color="black"), **layout_axes)
fig.write_html("out.html")
